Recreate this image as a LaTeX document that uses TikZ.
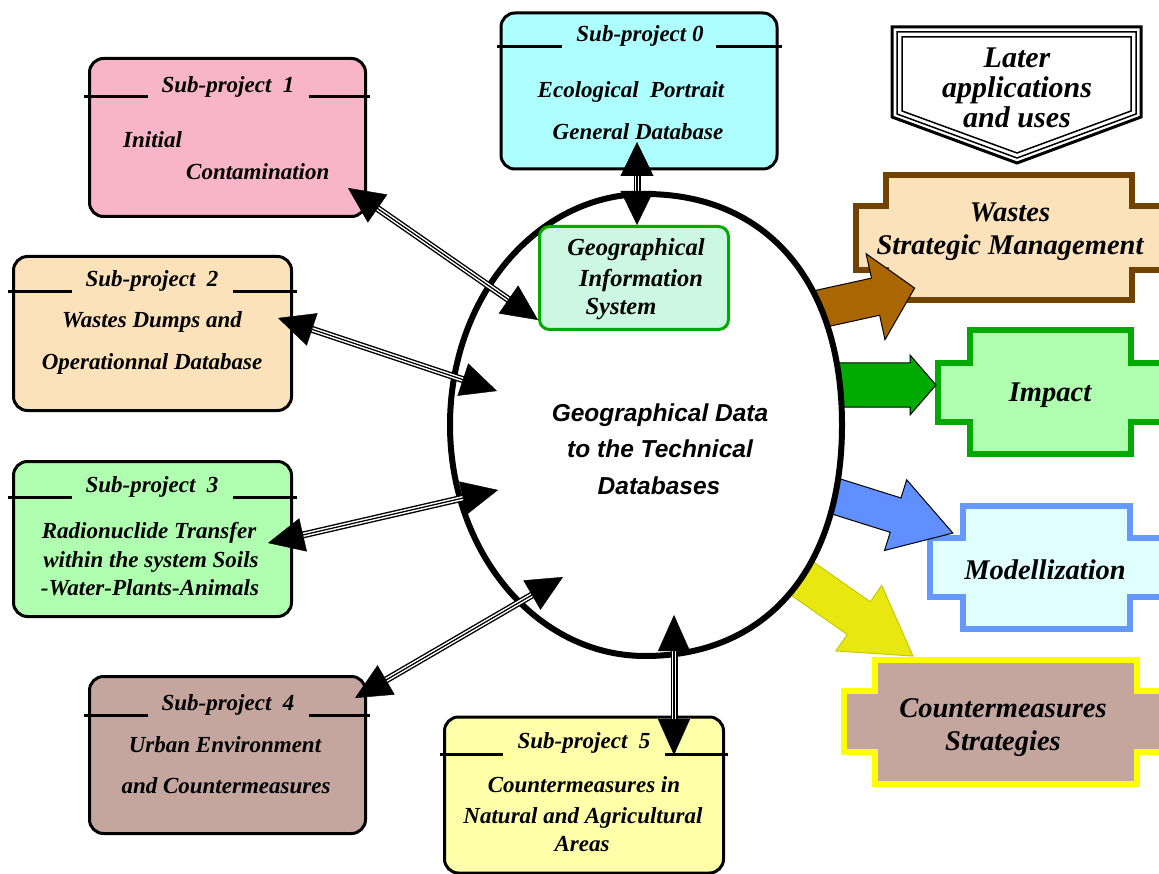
\documentclass[tikz,border=0pt]{standalone}
\usepackage{fontspec}
\setmainfont{Liberation Serif}
\newfontfamily\arialfam{Liberation Sans}
\usetikzlibrary{arrows.meta,shapes.geometric}
\definecolor{spcA}{HTML}{AEFFFF}
\definecolor{spcB}{HTML}{F8B4C8}
\definecolor{spcC}{HTML}{FCE2BA}
\definecolor{spcD}{HTML}{B0FFB0}
\definecolor{spcE}{HTML}{C4A69E}
\definecolor{spcF}{HTML}{FFFFAA}
\definecolor{gisfill}{HTML}{CCF7E3}
\definecolor{gline}{HTML}{00AA00}
\definecolor{wbord}{HTML}{704400}
\definecolor{brownarr}{HTML}{AA6600}
\definecolor{bluearr}{HTML}{6090FF}
\definecolor{modbord}{HTML}{6699FF}
\definecolor{modfill}{HTML}{E0FFFF}
\definecolor{yelarr}{HTML}{E8E810}
\definecolor{yelbord}{HTML}{C8C800}
\definecolor{cmbord}{HTML}{FFFF00}
\newcommand\stepbox[9]{%
  \draw[#1] (#3,#6) -- (#4,#6) -- (#4,#7) -- (#5,#7) -- (#5,#8) -- (#4,#8) -- (#4,#9) -- (#3,#9) -- (#3,#8) -- (#2,#8) -- (#2,#7) -- (#3,#7) -- cycle;}
\newcommand\blockarr[8]{%
  \begin{scope}[shift={(#2,#3)},rotate=#4]
  \draw[#1] (0,#6) -- ({#5-#8},#6) -- ({#5-#8},#7) -- (#5,0) -- ({#5-#8},-#7) -- ({#5-#8},-#6) -- (0,-#6) -- cycle;
  \end{scope}}
\newcommand\triarrow[4]{%
  \draw[line width=7pt, shorten <=22pt, shorten >=22pt] (#1) -- (#2);
  \draw[white, line width=4.2pt, shorten <=22pt, shorten >=22pt] (#1) -- (#2);
  \draw[line width=1.2pt, shorten <=22pt, shorten >=22pt] (#1) -- (#2);
  \draw[line width=0.4pt, {Triangle[length=#3pt,width=#4pt]}-{Triangle[length=#3pt,width=#4pt]}] (#1) -- (#2);}
\begin{document}
\begin{tikzpicture}[x=1pt,y=-1pt, line join=miter,
  spbox/.style={draw, line width=3pt, rounded corners=14pt, inner sep=0pt, outer sep=0pt},
  ttl/.style={font=\fontsize{23}{26}\selectfont\bfseries\itshape, inner sep=0pt, anchor=base},
  ttlw/.style={ttl, anchor=base west},
  gistx/.style={font=\fontsize{24.5}{26}\selectfont\bfseries\itshape, inner sep=0pt, anchor=base},
  big/.style={font=\fontsize{28.5}{30}\selectfont\bfseries\itshape, inner sep=0pt, anchor=base},
  later/.style={font=\fontsize{30}{30}\selectfont\bfseries\itshape, inner sep=0pt, anchor=base},
  ctr/.style={font=\arialfam\fontsize{24.5}{26}\selectfont\bfseries\itshape, inner sep=0pt, anchor=base},
  tline/.style={line width=3pt},
  arrbord/.style={draw=black, line width=1pt},
]
\clip (0,0) rectangle (1159,874);
\fill[white] (0,0) rectangle (1159,874);

% right-hand stepped boxes
\stepbox{draw=wbord, fill=spcC, line width=6pt}{856}{886}{1132}{1175}{175}{206}{270}{300}
\stepbox{draw=gline, fill=spcD, line width=6pt}{938}{970}{1131}{1175}{330}{363}{422}{454}
\stepbox{draw=modbord, fill=modfill, line width=6pt}{930}{963}{1130}{1175}{506}{538}{597}{629}
\stepbox{draw=cmbord, fill=spcE, line width=6pt}{844}{875}{1137}{1175}{660}{691}{752}{784}

% block arrows
\blockarr{fill=brownarr, arrbord}{815}{310}{12.4}{102}{19}{44}{40}
\blockarr{fill=gline, arrbord}{828}{385}{0}{108}{22}{30}{26}
\blockarr{fill=bluearr, arrbord}{825}{493}{-17.4}{134}{18}{37}{60}
\blockarr{fill=yelarr, draw=yelbord, line width=1pt}{790}{570}{-35}{150}{20}{40}{66}

% central oval
\draw[line width=6pt, fill=white] (645,194) .. controls (767,194) and (842,282) .. (842,425)
  .. controls (842,568) and (767,656) .. (645,656)
  .. controls (537,656) and (450,553) .. (450,425)
  .. controls (450,297) and (537,194) .. (645,194) -- cycle;

% GIS box
\node[draw=gline, fill=gisfill, line width=3pt, rounded corners=10pt, minimum width=189pt, minimum height=103pt, inner sep=0pt] (gis) at (634,278) {};

% later applications
\draw[line width=3pt] (892,27) -- (1141,27) -- (1141,117) -- (1017,163) -- (892,117) -- cycle;
\draw[line width=1.5pt] (897,32) -- (1136,32) -- (1136,114) -- (1017,158) -- (897,114) -- cycle;
\draw[line width=1.5pt] (902,37) -- (1131,37) -- (1131,111) -- (1017,153) -- (902,111) -- cycle;

% sub-project boxes
\node[spbox, fill=spcA, minimum width=276pt, minimum height=156pt] (sp0) at (639,91) {};
\node[spbox, fill=spcB, minimum width=276pt, minimum height=158pt] (sp1) at (227.5,137.5) {};
\node[spbox, fill=spcC, minimum width=278pt, minimum height=154pt] (sp2) at (152.5,333.5) {};
\node[spbox, fill=spcD, minimum width=278pt, minimum height=155pt] (sp3) at (152.5,539) {};
\node[spbox, fill=spcE, minimum width=276pt, minimum height=157pt] (sp4) at (227.5,755) {};
\node[spbox, fill=spcF, minimum width=279pt, minimum height=156pt] (sp5) at (584,795) {};

% title lines
\draw[tline] (497,47) -- (562,47) (716,47) -- (782,47);
\draw[tline] (84,97) -- (148,97) (309,97) -- (370,97);
\draw[tline] (8,292) -- (72,292) (233,292) -- (297,292);
\draw[tline] (8,497) -- (72,497) (233,497) -- (297,497);
\draw[tline] (84,715) -- (148,715) (309,715) -- (370,715);
\draw[tline] (440,754) -- (503,754) (665,754) -- (728,754);

% connectors
\coordinate (e0a) at (637,142);
\coordinate (e0b) at (637,225);
\coordinate (e1a) at (348,188);
\coordinate (e1b) at (538,320);
\coordinate (e2a) at (278,318);
\coordinate (e2b) at (497,391);
\coordinate (e3a) at (268,543);
\coordinate (e3b) at (498,490);
\coordinate (e4a) at (355,698);
\coordinate (e4b) at (563,577);
\coordinate (e5a) at (674,615);
\coordinate (e5b) at (674,755);
\triarrow{e0a}{e0b}{34}{33}
\triarrow{e1a}{e1b}{36}{34}
\triarrow{e2a}{e2b}{36}{34}
\triarrow{e3a}{e3b}{36}{34}
\triarrow{e4a}{e4b}{36}{34}
\triarrow{e5a}{e5b}{36}{32}

% texts
\node[ttl] (s0t) at (640,42) {Sub-project 0};
\node[ttl] (s0a) at (631,98) {Ecological\ \ Portrait};
\node[ttl] (s0b) at (638,140) {General Database};

\node[ttl] (s1t) at (228,93) {Sub-project\ \ 1};
\node[ttlw] (s1a) at (123,148) {Initial};
\node[ttlw] (s1b) at (186,180) {Contamination};

\node[ttl] (s2t) at (152,287) {Sub-project\ \ 2};
\node[ttl] (s2a) at (152,328) {Wastes Dumps and};
\node[ttl] (s2b) at (152,370) {Operationnal Database};

\node[ttl] (s3t) at (152,492) {Sub-project\ \ 3};
\node[ttl] (s3a) at (149,538) {Radionuclide Transfer};
\node[ttl] (s3b) at (151,567) {within the system Soils};
\node[ttl] (s3c) at (150,595) {-Water-Plants-Animals};

\node[ttl] (s4t) at (228,710) {Sub-project\ \ 4};
\node[ttl] (s4a) at (225,752) {Urban Environment};
\node[ttl] (s4b) at (226,793) {and Countermeasures};

\node[ttl] (s5t) at (584,748) {Sub-project\ \ 5};
\node[ttl] (s5a) at (584,792) {Countermeasures in};
\node[ttl] (s5b) at (583,823) {Natural and Agricultural};
\node[ttl] (s5c) at (582,851) {Areas};

\node[gistx] (g1) at (636,256) {Geographical};
\node[gistx] (g2) at (641,287) {Information};
\node[gistx] (g3) at (621,315) {System};

\node[ctr] (c1) at (660,421) {Geographical Data};
\node[ctr] (c2) at (660,457) {to the\ Technical};
\node[ctr] (c3) at (659,494) {Databases};

\node[later] (l1) at (1017,68) {Later};
\node[later] (l2) at (1017,98) {applications};
\node[later] (l3) at (1017,128) {and uses};

\node[big] (w1) at (1010,222) {Wastes};
\node[big] (w2) at (1010,255) {Strategic Management};
\node[big] (i1) at (1050,401) {Impact};
\node[big] (m1) at (1045,579) {Modellization};
\node[big] (k1) at (1003,717) {Countermeasures};
\node[big] (k2) at (1003,750) {Strategies};
\end{tikzpicture}
\end{document}
